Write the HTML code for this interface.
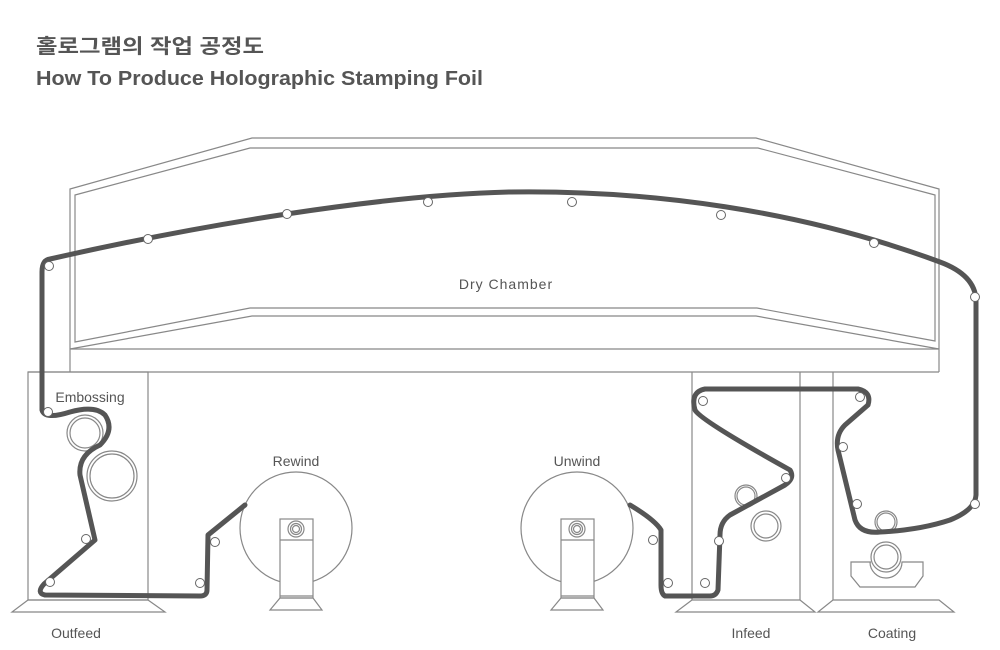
<!DOCTYPE html>
<html><head><meta charset="utf-8"><style>
html,body{margin:0;padding:0;background:#fff;width:1000px;height:650px;overflow:hidden}
svg{display:block}
text{font-family:"Liberation Sans","Noto Sans CJK KR",sans-serif;fill:#555}
</style></head><body>
<svg width="1000" height="650" viewBox="0 0 1000 650" xmlns="http://www.w3.org/2000/svg">
<text x="36" y="53" font-size="20" font-weight="bold" textLength="228" lengthAdjust="spacingAndGlyphs">홀로그램의 작업 공정도</text>
<text x="36" y="85" font-size="20" font-weight="bold" textLength="447" lengthAdjust="spacingAndGlyphs">How To Produce Holographic Stamping Foil</text>

<g fill="none" stroke="#888" stroke-width="1.2">
<!-- chamber outer -->
<polyline points="70,372 70,189 252,138 756,138 939,189 939,372"/>
<polygon points="75,195 250,148 758,148 935,195 935,341 757,308 250,308 75,342"/>
<polyline points="70,349 252,316 756,316 939,349"/>
<line x1="70" y1="349" x2="939" y2="349"/>
<line x1="28" y1="372" x2="939" y2="372"/>
<!-- boxes -->
<rect x="28" y="372" width="120" height="228"/>
<line x1="692" y1="372" x2="692" y2="600"/>
<line x1="800" y1="372" x2="800" y2="600"/>
<line x1="833" y1="372" x2="833" y2="600"/>
<!-- bases -->
<polygon points="28,600 148,600 165,612 12,612"/>
<polygon points="692,600 800,600 815,612 676,612"/>
<polygon points="833,600 939,600 954,612 818,612"/>
<!-- embossing rollers -->
<circle cx="85" cy="433" r="18"/><circle cx="85" cy="433" r="15"/>
<circle cx="112" cy="476" r="25"/><circle cx="112" cy="476" r="22"/>
<!-- infeed rollers -->
<circle cx="746" cy="496" r="11"/><circle cx="746" cy="496" r="9"/>
<circle cx="766" cy="526" r="15"/><circle cx="766" cy="526" r="12"/>
<!-- coating -->
<circle cx="886" cy="522" r="11"/><circle cx="886" cy="522" r="9"/>
<circle cx="886" cy="557" r="15"/><circle cx="886" cy="557" r="12"/>
<path d="M871,562 L851,562 L851,576 L860,587 L915,587 L923,576 L923,562 L902,562 A16,16 0 0 1 870,562"/>
<!-- rewind -->
<circle cx="296" cy="528" r="56" fill="#fff"/>
<rect x="280" y="519" width="33" height="79" fill="#fff"/>
<line x1="280" y1="540" x2="313" y2="540"/>
<line x1="280" y1="596" x2="313" y2="596"/>
<circle cx="296" cy="529" r="8"/><circle cx="296" cy="529" r="5.5"/><circle cx="296" cy="529" r="3.5"/>
<polygon points="280,598 313,598 322,610 270,610"/>
<!-- unwind -->
<circle cx="577" cy="528" r="56" fill="#fff"/>
<rect x="561" y="519" width="33" height="79" fill="#fff"/>
<line x1="561" y1="540" x2="594" y2="540"/>
<line x1="561" y1="596" x2="594" y2="596"/>
<circle cx="577" cy="529" r="8"/><circle cx="577" cy="529" r="5.5"/><circle cx="577" cy="529" r="3.5"/>
<polygon points="561,598 594,598 603,610 551,610"/>
</g>

<!-- web path -->
<path fill="none" stroke="#555" stroke-width="5" stroke-linejoin="round" stroke-linecap="round"
d="M245,505 L208,535 L207,590 Q207,596 200,596 L45,595 Q36,593 44,584 L95,540 L80,475 Q78,455 100,445 Q115,430 105,415 Q95,405 70,412 Q45,420 42,410 L42,272 Q42,260 50,259
C200,225 380,195 510,192 C650,190 800,210 940,262 Q975,275 976,300 L976,495 Q975,510 950,520 Q920,530 880,532 Q860,534 855,520 L838,450 Q835,435 845,425 L868,405 Q872,392 858,389 L705,389 Q690,392 695,410 Q700,420 790,470 Q795,478 785,485 L730,515 Q720,522 720,535 L718,590 Q716,596 710,596 L665,596 Q661,594 661,585 L661,530 Q655,520 630,505"/>

<g fill="#fff" stroke="#666" stroke-width="1">
<circle cx="49" cy="266" r="4.5"/><circle cx="148" cy="239" r="4.5"/><circle cx="287" cy="214" r="4.5"/>
<circle cx="428" cy="202" r="4.5"/><circle cx="572" cy="202" r="4.5"/><circle cx="721" cy="215" r="4.5"/>
<circle cx="874" cy="243" r="4.5"/><circle cx="975" cy="297" r="4.5"/>
<circle cx="48" cy="412" r="4.5"/><circle cx="86" cy="539" r="4.5"/><circle cx="50" cy="582" r="4.5"/>
<circle cx="200" cy="583" r="4.5"/><circle cx="215" cy="542" r="4.5"/>
<circle cx="703" cy="401" r="4.5"/><circle cx="860" cy="397" r="4.5"/><circle cx="843" cy="447" r="4.5"/>
<circle cx="786" cy="478" r="4.5"/><circle cx="857" cy="504" r="4.5"/><circle cx="975" cy="504" r="4.5"/>
<circle cx="653" cy="540" r="4.5"/><circle cx="719" cy="541" r="4.5"/><circle cx="705" cy="583" r="4.5"/><circle cx="668" cy="583" r="4.5"/>
</g>

<g font-size="14" text-anchor="middle">
<text x="506" y="289" letter-spacing="1">Dry Chamber</text>
<text x="90" y="402">Embossing</text>
<text x="296" y="466">Rewind</text>
<text x="577" y="466">Unwind</text>
<text x="76" y="638">Outfeed</text>
<text x="751" y="638">Infeed</text>
<text x="892" y="638">Coating</text>
</g>
</svg>
</body></html>
